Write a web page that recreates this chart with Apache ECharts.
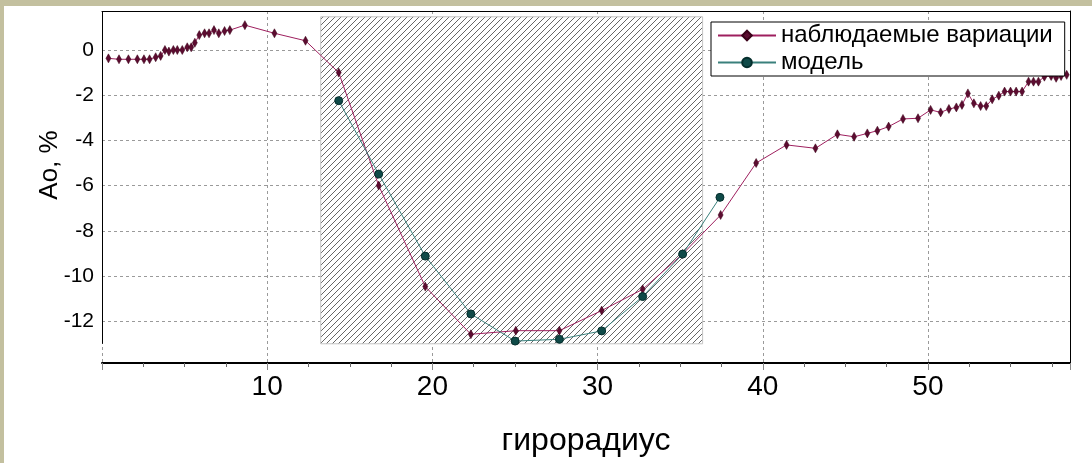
<!DOCTYPE html>
<html>
<head>
<meta charset="utf-8">
<script src="https://cdn.jsdelivr.net/npm/echarts@6/dist/echarts.min.js"></script>
<style>
  html, body { margin: 0; padding: 0; }
  body { width: 1092px; height: 463px; background: #c3c09f; position: relative; overflow: hidden; }
  #chart { position: absolute; left: 4px; top: 6px; width: 1088px; height: 457px; background: #fff; }
</style>
</head>
<body>
<div id="chart"></div>
<script>
// наблюдаемые вариации
const obsX = [0.39, 1.03, 1.6, 2.14, 2.54, 2.88, 3.25, 3.55, 3.81, 4.05,
  4.32, 4.56, 4.86, 5.16, 5.4, 5.62, 5.89, 6.21, 6.48, 6.78,
  7.07, 7.42, 7.74, 8.65, 10.44, 12.32, 14.33, 16.75, 19.57, 22.33,
  25.05, 27.69, 30.25, 32.73, 35.15, 37.45, 39.6, 41.44, 43.19, 44.52,
  45.53, 46.33, 46.94, 47.62, 48.49, 49.4, 50.16, 50.77, 51.27, 51.72,
  52.06, 52.42, 52.78, 53.19, 53.53, 53.89, 54.29, 54.64, 55.0, 55.34,
  55.7, 56.09, 56.39, 56.69, 57.05, 57.46, 57.76, 58.06, 58.4];
const obsY = [-0.37, -0.41, -0.41, -0.41, -0.41, -0.41, -0.32, -0.26, 0.0, -0.07,
  0.0, 0.0, 0.0, 0.12, 0.12, 0.32, 0.66, 0.74, 0.74, 0.88,
  0.74, 0.84, 0.88, 1.1, 0.74, 0.41, -1.0, -6.0, -10.47, -12.58,
  -12.42, -12.42, -11.53, -10.59, -9.03, -7.3, -5.0, -4.2, -4.35, -3.73,
  -3.84, -3.69, -3.57, -3.39, -3.05, -3.02, -2.65, -2.76, -2.61, -2.54,
  -2.43, -1.92, -2.36, -2.48, -2.48, -2.18, -2.02, -1.84, -1.84, -1.84,
  -1.84, -1.4, -1.4, -1.4, -1.18, -1.15, -1.23, -1.15, -1.1];
// модель
const modelX = [14.33, 16.75, 19.57, 22.33, 25.01, 27.69, 30.25, 32.73, 35.15, 37.41];
const modelY = [-2.24, -5.49, -9.12, -11.68, -12.88, -12.8, -12.43, -10.91, -9.03, -6.52];
// заштрихованная область
const hatchX = [13.24, 36.36];
const hatchY = [-13, 1.47];
const xTicks = [10, 20, 30, 40, 50];
const yTicks = [0, -2, -4, -6, -8, -10, -12];

const xMin = 0, xMax = 58.6, yMin = -13.85, yMax = 1.726;

function hatchPattern() {
  const n = 6;
  const c = document.createElement('canvas');
  c.width = n; c.height = n;
  const ctx = c.getContext('2d');
  ctx.fillStyle = '#fff';
  ctx.fillRect(0, 0, n, n);
  ctx.fillStyle = '#666';
  for (let i = 0; i < n; i++) ctx.fillRect(i, n - 1 - i, 1, 1);
  return c;
}

const dash = { color: '#9a9a9a', type: [3, 3], width: 1 };

const option = {
  animation: false,
  textStyle: { fontFamily: 'Liberation Sans, Arial, sans-serif', color: '#000' },
  grid: { left: 98, top: 5, right: 22, bottom: 100 },
  legend: {
    data: ['наблюдаемые вариации', 'модель'],
    orient: 'vertical',
    left: 707, top: 16,
    itemWidth: 58, itemHeight: 12, itemGap: 0,
    padding: [0, 12, 0, 6],
    backgroundColor: '#fff', borderColor: '#000', borderWidth: 1,
    textStyle: { fontSize: 24, color: '#000', lineHeight: 27 },
    z: 10
  },
  xAxis: [
    {
      type: 'value', min: xMin, max: xMax, interval: 10,
      axisLine: { onZero: false, lineStyle: { color: '#000', width: 2 } },
      axisTick: { length: 7, lineStyle: { color: '#888' } },
      minorTick: { show: true, splitNumber: 4, length: 4, lineStyle: { color: '#666' } },
      splitLine: { lineStyle: dash },
      axisLabel: {
        fontSize: 28, color: '#000', margin: 10,
        formatter: v => xTicks.includes(v) ? String(v) : ''
      },
      name: 'гирорадиус', nameLocation: 'middle', nameGap: 62, nameMoveOverlap: false,
      nameTextStyle: { fontSize: 32, color: '#000' }
    },
    {
      type: 'value', position: 'top', min: xMin, max: xMax,
      axisLine: { onZero: false, lineStyle: { color: '#000', width: 1 } },
      axisTick: { show: false }, axisLabel: { show: false }, splitLine: { show: false }
    }
  ],
  yAxis: [
    {
      type: 'value', min: yMin, max: yMax, splitNumber: 8, minInterval: 2, maxInterval: 2,
      axisLine: { show: false, onZero: false },
      axisTick: { show: false },
      splitLine: { lineStyle: dash },
      axisLabel: {
        fontSize: 21, color: '#000', margin: 8,
        formatter: v => yTicks.includes(Math.round(v * 100) / 100) ? String(Math.round(v)) : ''
      },
      name: 'Ao, %', nameLocation: 'middle', nameGap: 39, nameMoveOverlap: false,
      nameTextStyle: { fontSize: 26, color: '#000', padding: [0, 0, 0, 44] }
    },
    {
      type: 'value', position: 'right', min: yMin, max: yMax,
      axisLine: { show: true, onZero: false, lineStyle: { color: '#000', width: 1 } },
      axisTick: { show: false }, axisLabel: { show: false }, splitLine: { show: false }
    }
  ],
  series: [
    {
      // штриховка + левая ось до -13
      type: 'line', data: [], silent: true, z: 1,
      markArea: {
        silent: true,
        itemStyle: {
          color: { image: hatchPattern(), repeat: 'repeat' },
          borderColor: '#c4c4c4', borderWidth: 1
        },
        data: [[{ coord: [hatchX[0], hatchY[1]] }, { coord: [hatchX[1], hatchY[0]] }]]
      },
      markLine: {
        silent: true, symbol: 'none', label: { show: false },
        lineStyle: { color: '#000', width: 1, type: 'solid' },
        data: [[{ coord: [xMin, -13] }, { coord: [xMin, yMax] }]]
      }
    },
    {
      name: 'наблюдаемые вариации', type: 'line', z: 3,
      data: obsX.map((x, i) => [x, obsY[i]]),
      symbol: 'diamond', symbolSize: [5, 9],
      itemStyle: { color: '#5c0c30', borderColor: '#3a0018', borderWidth: 0.5 },
      lineStyle: { color: '#9e1f5e', width: 1 }
    },
    {
      name: 'модель', type: 'line', z: 4,
      data: modelX.map((x, i) => [x, modelY[i]]),
      symbol: 'circle', symbolSize: 8,
      itemStyle: { color: '#0f4a48', borderColor: '#052e2c', borderWidth: 1 },
      lineStyle: { color: '#3a807c', width: 1 }
    }
  ]
};

const myChart = echarts.init(document.getElementById('chart'));
myChart.setOption(option);
</script>
</body>
</html>
